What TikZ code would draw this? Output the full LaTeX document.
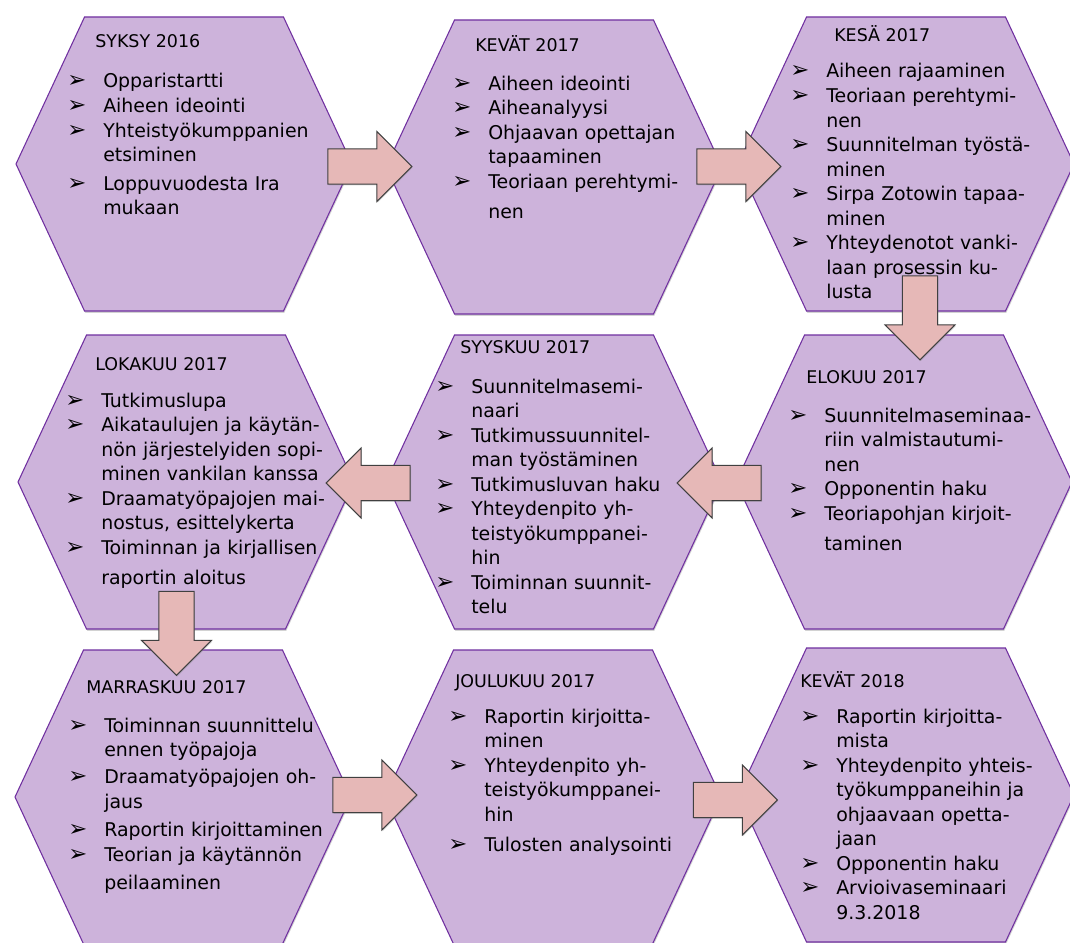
\documentclass[tikz,border=0pt]{standalone}
\usepackage{fontspec}
\setmainfont{DejaVu Sans}
\newfontfamily\merkkifont{DejaVu Sans}
\usetikzlibrary{positioning,calc,shapes.arrows,shapes.symbols,shadows}
\definecolor{kuusio}{HTML}{CDB3DB}
\definecolor{kuusioreuna}{HTML}{7030A0}
\definecolor{nuolivari}{HTML}{E6B8B7}
\newcommand{\kohta}{\makebox[27pt][l]{\merkkifont\fontsize{17}{17}\selectfont ➢}}
\newcommand{\jatko}{\hspace*{27pt}}

\begin{document}
\begin{tikzpicture}[x=0.75pt,y=-0.75pt,
  kuusiokulmio/.style={shape=signal, signal to=west and east, signal pointer angle=130,
    minimum width=252pt, minimum height=220.5pt, inner sep=0pt,
    fill=kuusio, draw=kuusioreuna, line width=0.8pt,
    drop shadow={shadow xshift=0.6pt, shadow yshift=-1.4pt, opacity=0.35}},
  otsikko/.style={anchor=base west, inner sep=0pt, font=\fontsize{13.1}{15}\selectfont},
  lista/.style={anchor=base west, inner sep=0pt, text width=260pt, align=left,
    font=\fontsize{14.2}{18.4}\selectfont},
  nuoli/.style={single arrow, fill=nuolivari, draw=black!75, line width=0.8pt,
    minimum height=63pt, inner xsep=0pt, inner ysep=12.8pt,
    single arrow head extend=13pt, single arrow tip angle=90,
    drop shadow={shadow xshift=0.6pt, shadow yshift=-1pt, opacity=0.3}},
  alasnuoli/.style={nuoli, shape border rotate=270, inner xsep=12.8pt, inner ysep=0pt}]
\fill[white] (0,0) rectangle (1070,942);
\useasboundingbox (0,0) rectangle (1070,942);
%the hexagons
\node[kuusiokulmio] (syksy16) at (184,164) {};
\node[kuusiokulmio] (kevat17) at (554,167) {};
\node[kuusiokulmio] (kesa17) at (906,164) {};
\node[kuusiokulmio] (lokakuu17) at (186,482) {};
\node[kuusiokulmio] (syyskuu17) at (554,482) {};
\node[kuusiokulmio] (elokuu17) at (904,482) {};
\node[kuusiokulmio] (marras17) at (183,797) {};
\node[kuusiokulmio] (joulu17) at (553,797) {};
\node[kuusiokulmio] (kevat18) at (906,795) {};

%headings
\node[otsikko] (syksy16o) at ([shift={(-89,-116)}]syksy16) {SYKSY 2016};
\node[otsikko] (kevat17o) at ([shift={(-79,-115)}]kevat17) {KEVÄT 2017};
\node[otsikko] (kesa17o) at ([shift={(-72,-122)}]kesa17) {KESÄ 2017};
\node[otsikko] (lokakuu17o) at ([shift={(-91,-112)}]lokakuu17) {LOKAKUU 2017};
\node[otsikko] (syyskuu17o) at ([shift={(-94,-129)}]syyskuu17) {SYYSKUU 2017};
\node[otsikko] (elokuu17o) at ([shift={(-98,-99)}]elokuu17) {ELOKUU 2017};
\node[otsikko] (marras17o) at ([shift={(-97,-104)}]marras17) {MARRASKUU 2017};
\node[otsikko] (joulu17o) at ([shift={(-98,-110)}]joulu17) {JOULUKUU 2017};
\node[otsikko] (kevat18o) at ([shift={(-106,-108)}]kevat18) {KEVÄT 2018};

%the lists
\node[lista] (syksy16l) at ([shift={(-117,-76)}]syksy16) {\kohta Opparistartti\\
  \kohta Aiheen ideointi\\
  \kohta Yhteistyökumppanien\\
  \jatko etsiminen\\[3pt]
  \kohta Loppuvuodesta Ira\\
  \jatko mukaan};
\node[lista] (kevat17l) at ([shift={(-102,-77)}]kevat17) {\kohta Aiheen ideointi\\
  \kohta Aiheanalyysi\\
  \kohta Ohjaavan opettajan\\
  \jatko tapaaminen\\
  \kohta Teoriaan perehtymi-\\[4pt]
  \jatko nen};
\node[lista] (kesa17l) at ([shift={(-116,-86)}]kesa17) {\kohta Aiheen rajaaminen\\
  \kohta Teoriaan perehtymi-\\
  \jatko nen\\
  \kohta Suunnitelman työstä-\\
  \jatko minen\\
  \kohta Sirpa Zotowin tapaa-\\
  \jatko minen\\
  \kohta Yhteydenotot vanki-\\
  \jatko laan prosessin ku-\\
  \jatko lusta};
\node[lista] (lokakuu17l) at ([shift={(-121,-75)}]lokakuu17) {\kohta Tutkimuslupa\\
  \kohta Aikataulujen ja käytän-\\
  \jatko nön järjestelyiden sopi-\\
  \jatko minen vankilan kanssa\\
  \kohta Draamatyöpajojen mai-\\
  \jatko nostus, esittelykerta\\
  \kohta Toiminnan ja kirjallisen\\[4pt]
  \jatko raportin aloitus};
\node[lista] (syyskuu17l) at ([shift={(-119,-89)}]syyskuu17) {\kohta Suunnitelmasemi-\\
  \jatko naari\\
  \kohta Tutkimussuunnitel-\\
  \jatko man työstäminen\\
  \kohta Tutkimusluvan haku\\
  \kohta Yhteydenpito yh-\\
  \jatko teistyökumppanei-\\
  \jatko hin\\
  \kohta Toiminnan suunnit-\\
  \jatko telu};
\node[lista] (elokuu17l) at ([shift={(-116,-60)}]elokuu17) {\kohta Suunnitelmaseminaa-\\
  \jatko riin valmistautumi-\\
  \jatko nen\\
  \kohta Opponentin haku\\
  \kohta Teoriapohjan kirjoit-\\[4pt]
  \jatko taminen};
\node[lista] (marras17l) at ([shift={(-115,-65)}]marras17) {\kohta Toiminnan suunnittelu\\
  \jatko ennen työpajoja\\[2pt]
  \kohta Draamatyöpajojen oh-\\
  \jatko jaus\\[3pt]
  \kohta Raportin kirjoittaminen\\
  \kohta Teorian ja käytännön\\[3pt]
  \jatko peilaaminen};
\node[lista] (joulu17l) at ([shift={(-105,-74)}]joulu17) {\kohta Raportin kirjoitta-\\
  \jatko minen\\
  \kohta Yhteydenpito yh-\\
  \jatko teistyökumppanei-\\
  \jatko hin\\[4pt]
  \kohta Tulosten analysointi};
\node[lista] (kevat18l) at ([shift={(-106,-72)}]kevat18) {\kohta Raportin kirjoitta-\\
  \jatko mista\\
  \kohta Yhteydenpito yhteis-\\
  \jatko työkumppaneihin ja\\
  \jatko ohjaavaan opetta-\\
  \jatko jaan\\
  \kohta Opponentin haku\\
  \kohta Arvioivaseminaari\\
  \jatko 9.3.2018};

%the arrows
\node[nuoli] (n1) at ($(syksy16)!0.5!(kevat17)+(-8,1)$) {};
\node[nuoli] (n2) at ($(kevat17)!0.5!(kesa17)+(0,1)$) {};
\node[alasnuoli] (n3) at ($(kesa17)!0.5!(elokuu17)+(15,-14)$) {};
\node[nuoli, shape border rotate=180] (n4) at ($(elokuu17)!0.5!(syyskuu17)+(-1,1)$) {};
\node[nuoli, shape border rotate=180] (n5) at ($(syyskuu17)!0.5!(lokakuu17)+(7,1)$) {};
\node[alasnuoli] (n6) at ($(lokakuu17)!0.5!(marras17)+(-8,-15)$) {};
\node[nuoli] (n7) at ($(marras17)!0.5!(joulu17)+(-2,-2)$) {};
\node[nuoli] (n8) at ($(joulu17)!0.5!(kevat18)+(-3,4)$) {};
\end{tikzpicture}
\end{document}
